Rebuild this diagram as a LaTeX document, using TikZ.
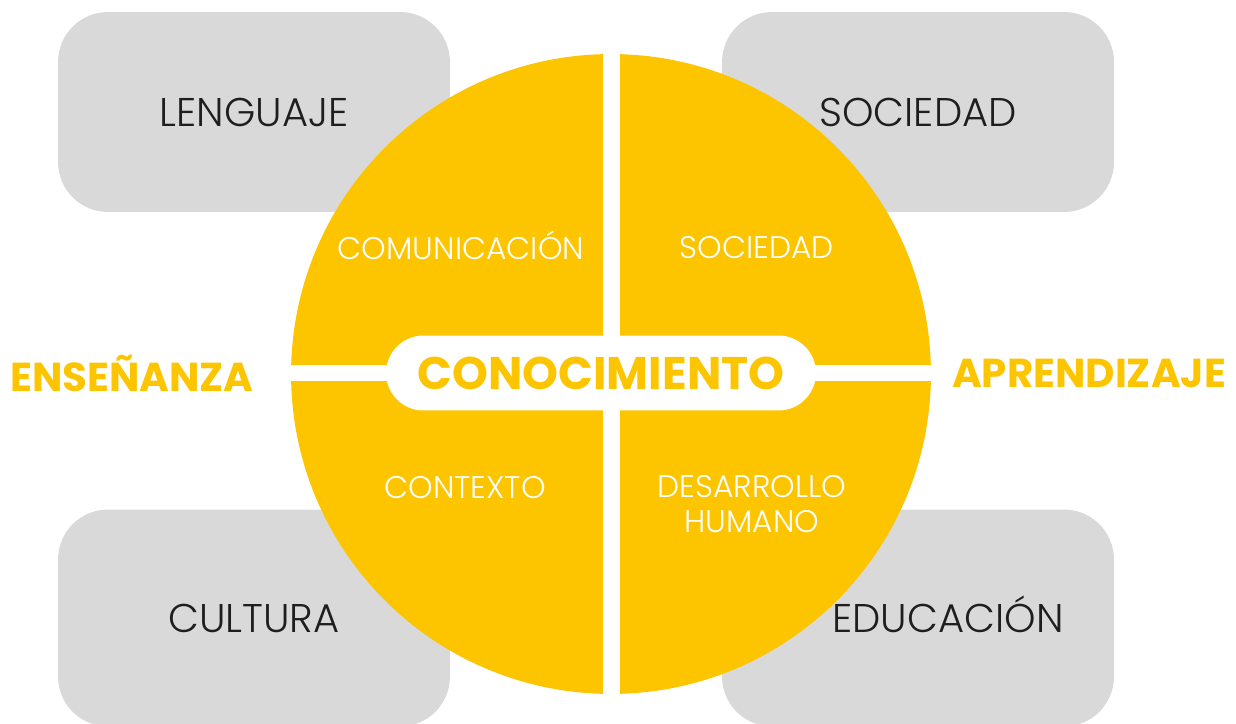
\documentclass[tikz,border=0pt]{standalone}
\usepackage{fontspec}
\setmainfont{Poppins}
\newfontfamily\fina{Poppins Light}
\definecolor{amarillo}{HTML}{FDC500}
\definecolor{gris}{HTML}{D9D9D9}
\definecolor{tinta}{HTML}{1E1E1E}
\tikzset{
  caja/.style={fill=gris, rounded corners=1cm, minimum width=7.84cm, minimum height=4cm,
    text=tinta, font=\fina\fontsize{22.8}{27}\selectfont},
  rotulo/.style={text=white, align=center, font=\fina\fontsize{17.8}{19.8}\selectfont},
  lado/.style={text=amarillo, font=\bfseries\fontsize{23}{27}\selectfont},
}
\begin{document}
\begin{tikzpicture}[x=0.02cm,y=-0.02cm]
            \useasboundingbox (0,0) rectangle (1236,723);
            % cajas grises
            \node[caja] (lenguaje) at (254,112) {LENGUAJE};
            \node[caja] (sociedad) at (918,112) {SOCIEDAD};
            \node[caja, minimum height=4.34cm] (cultura) at (254,618) {CULTURA};
            \node[caja, minimum height=4.34cm] (educacion) at (918,618) {};
            % circulo central
            \node[circle, fill=amarillo, minimum size=12.8cm, inner sep=0pt] (circulo) at (611,374) {};
            \fill[white] (603,40) rectangle (620,710);
            \fill[white] (280,365) rectangle (940,381);
            \node[fill=white, rounded corners=0.75cm, minimum width=8.6cm, minimum height=1.5cm,
              text=amarillo, font=\bfseries\fontsize{26}{30}\selectfont] (conocimiento) at (601,373) {CONOCIMIENTO};
            \node[text=tinta, font=\fina\fontsize{22.8}{27}\selectfont] (educaciontxt) at (948,614) {EDUCACIÓN};
            \node[rotulo] (comunicacion) at (461,245) {COMUNICACIÓN};
            \node[rotulo] (sociedadint) at (757,248) {SOCIEDAD};
            \node[rotulo] (contexto) at (465,488) {CONTEXTO};
            \node[rotulo] (desarrollo) at (752,504) {DESARROLLO\\HUMANO};
            \node[lado] (ensenanza) at (132,373) {ENSEÑANZA};
            \node[lado] (aprendizaje) at (1089,373) {APRENDIZAJE};
\end{tikzpicture}
\end{document}
